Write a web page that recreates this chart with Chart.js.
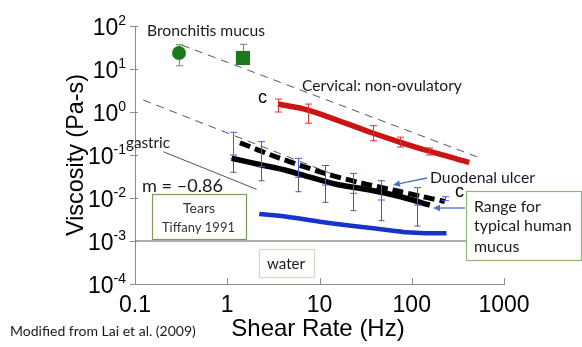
<!DOCTYPE html>
<html><head><meta charset="utf-8">
<script src="https://cdn.jsdelivr.net/npm/chart.js@4.4.1/dist/chart.umd.min.js"></script>
<style>html,body{margin:0;padding:0;background:#fff;overflow:hidden}canvas{display:block}</style>
</head><body>
<canvas id="c" width="582" height="347" style="width:582px;height:347px"></canvas>
<script>
// ---------- data ----------
const xTickVals = [0.1, 1, 10, 100, 1000];
const xTickLabels = ['0.1', '1', '10', '100', '1000'];
const yTickExps = [2, 1, 0, -1, -2, -3, -4];

const bronchCircleX = [0.30];
const bronchCircleY = [23.5];
const bronchCircleLo = [11.9];
const bronchCircleHi = [36.7];
const bronchSquareX = [1.48];
const bronchSquareY = [18];
const bronchSquareLo = [18];
const bronchSquareHi = [37.5];

const cervicalX = [3.54, 7.5, 37.6, 74, 152, 420];
const cervicalY = [1.53, 1.11, 0.325, 0.2, 0.124, 0.0675];
const cervicalErrX = [3.54, 7.5, 37.6, 74, 152];
const cervicalErrLo = [1.0, 0.55, 0.215, 0.153, 0.1];
const cervicalErrHi = [2.0, 1.53, 0.48, 0.26, 0.146];

const duodenalX = [1.373, 3.57, 11.4, 27.4, 62.8, 133, 228];
const duodenalY = [0.193, 0.0865, 0.0375, 0.0227, 0.01535, 0.0107, 0.0083];
const duodenalErrX = [1.15, 2.32, 5.79, 11.6, 23.2, 45.9, 114.5, 228];
const duodenalErrLo = [0.1, 0.0534, 0.0303, 0.020, 0.01285, 0.00898, 0.00687, 0.00865];
const duodenalErrHi = [0.337, 0.204, 0.0838, 0.057, 0.0375, 0.0252, 0.0174, 0.0107];

const typicalX = [1.116, 2.36, 4.22, 7.55, 14.7, 35.2, 74.3, 157];
const typicalY = [0.0838, 0.0585, 0.0448, 0.0313, 0.0212, 0.01535, 0.01084, 0.00687];
const typicalErrX = [1.15, 2.32, 5.79, 11.6, 23.2, 45.9, 114.5];
const typicalErrLo = [0.0396, 0.0252, 0.0140, 0.00794, 0.00507, 0.00297, 0.00223];
const typicalErrHi = [0.0838, 0.0585, 0.0352, 0.0236, 0.0175, 0.0149, 0.00765];

const tearsX = [2.22, 4.40, 10.1, 23.2, 62.8, 87.9, 145, 238];
const tearsY = [0.00425, 0.00367, 0.00281, 0.00223, 0.00174, 0.00159, 0.00151, 0.00151];

const waterX = [0.1, 385];
const waterY = [0.001, 0.001];
const gastricX = [0.203, 2.08];
const gastricY = [0.119, 0.0159];
const guide1X = [0.321, 589];
const guide1Y = [36.1, 0.0807];
const guide2X = [0.123, 16.6];
const guide2Y = [1.90, 0.0307];

// ---------- helpers ----------
const pts = (xs, ys) => xs.map((x, i) => ({ x: x, y: ys[i] }));
const GREEN = '#1c7a1c', RED = '#cc1414', BLUE = '#1634c8', ARROW = '#4472c4';
const SANS = '"Liberation Sans", Arial, sans-serif';
const CAL = 'Lato, "Open Sans", sans-serif';

function fitFont(ctx, text, family, width, weight) {
  ctx.font = (weight || '') + ' 100px ' + family;
  const w = ctx.measureText(text).width;
  ctx.font = (weight || '') + ' ' + (100 * width / w).toFixed(2) + 'px ' + family;
}
function fitText(ctx, text, x, base, width, family, weight) {
  fitFont(ctx, text, family || CAL, width, weight);
  ctx.textAlign = 'left';
  ctx.textBaseline = 'alphabetic';
  ctx.fillText(text, x, base);
}
function errBars(chart, xs, lo, hi, color, cap, lw) {
  const ctx = chart.ctx, sx = chart.scales.x, sy = chart.scales.y;
  ctx.save();
  ctx.strokeStyle = color; ctx.lineWidth = lw;
  xs.forEach((xv, i) => {
    const px = Math.round(sx.getPixelForValue(xv)) + 0.5;
    const p1 = sy.getPixelForValue(lo[i]), p2 = sy.getPixelForValue(hi[i]);
    ctx.beginPath();
    ctx.moveTo(px, p1); ctx.lineTo(px, p2);
    ctx.moveTo(px - cap, p1); ctx.lineTo(px + cap, p1);
    ctx.moveTo(px - cap, p2); ctx.lineTo(px + cap, p2);
    ctx.stroke();
  });
  ctx.restore();
}
function arrow(ctx, x1, y1, x2, y2) {
  ctx.save();
  ctx.strokeStyle = ARROW; ctx.fillStyle = ARROW; ctx.lineWidth = 1.3;
  const ang = Math.atan2(y2 - y1, x2 - x1);
  const hx = x2 - 7 * Math.cos(ang), hy = y2 - 7 * Math.sin(ang);
  ctx.beginPath(); ctx.moveTo(x1, y1); ctx.lineTo(hx, hy); ctx.stroke();
  ctx.beginPath();
  ctx.moveTo(x2, y2);
  ctx.lineTo(hx + 3.2 * Math.sin(ang), hy - 3.2 * Math.cos(ang));
  ctx.lineTo(hx - 3.2 * Math.sin(ang), hy + 3.2 * Math.cos(ang));
  ctx.closePath(); ctx.fill();
  ctx.restore();
}
function box(ctx, x1, y1, x2, y2, color) {
  ctx.save();
  ctx.fillStyle = '#fff'; ctx.fillRect(x1, y1, x2 - x1, y2 - y1);
  ctx.strokeStyle = color; ctx.lineWidth = 1.2;
  ctx.strokeRect(x1 + 0.5, y1 + 0.5, x2 - x1, y2 - y1);
  ctx.restore();
}

const deco = {
  id: 'deco',
  beforeDraw(chart) {
    const ctx = chart.ctx;
    ctx.save(); ctx.fillStyle = '#fff'; ctx.fillRect(0, 0, chart.width, chart.height); ctx.restore();
  },
  beforeDatasetsDraw(chart) {
    errBars(chart, typicalErrX, typicalErrLo, typicalErrHi, '#5a5a5a', 3, 1);
    errBars(chart, bronchCircleX, bronchCircleLo, bronchCircleHi, '#5b955b', 3.5, 1);
    errBars(chart, bronchSquareX, bronchSquareLo, bronchSquareHi, '#5b955b', 3.5, 1);
  },
  afterDatasetsDraw(chart) {
    const ctx = chart.ctx, a = chart.chartArea, sx = chart.scales.x, sy = chart.scales.y;
    errBars(chart, duodenalErrX, duodenalErrLo, duodenalErrHi, '#4a5ad8', 3.5, 1);
    errBars(chart, cervicalErrX, cervicalErrLo, cervicalErrHi, '#dd3030', 3.5, 1);

    ctx.save();
    // tick marks
    ctx.strokeStyle = '#8c8c8c'; ctx.lineWidth = 1;
    yTickExps.forEach(e => {
      const py = Math.round(sy.getPixelForValue(Math.pow(10, e))) + 0.5;
      ctx.beginPath(); ctx.moveTo(a.left - 5, py); ctx.lineTo(a.left + 3, py); ctx.stroke();
    });
    xTickVals.forEach(v => {
      const px = Math.round(sx.getPixelForValue(v)) + 0.5;
      ctx.beginPath(); ctx.moveTo(px, a.bottom); ctx.lineTo(px, a.bottom - 6); ctx.stroke();
    });
    // y tick labels 10^n
    ctx.fillStyle = '#000'; ctx.textBaseline = 'alphabetic'; ctx.textAlign = 'left';
    yTickExps.forEach(e => {
      const py = sy.getPixelForValue(Math.pow(10, e));
      const sup = e < 0 ? '-' + (-e) : String(e);
      ctx.font = '23px ' + SANS; const w1 = ctx.measureText('10').width;
      ctx.font = '14px ' + SANS; const w2 = ctx.measureText(sup).width;
      const x0 = a.left - 9 - w1 - w2;
      ctx.font = '23px ' + SANS; ctx.fillText('10', x0, py + 9);
      ctx.font = '14px ' + SANS; ctx.fillText(sup, x0 + w1, py - 1);
    });
    // x tick labels
    ctx.font = '23px ' + SANS; ctx.textAlign = 'center';
    xTickVals.forEach((v, i) => ctx.fillText(xTickLabels[i], sx.getPixelForValue(v), a.bottom + 28));
    // axis titles
    ctx.font = '24px ' + SANS;
    ctx.fillText('Shear Rate (Hz)', 318, 336);
    ctx.save();
    ctx.translate(83, (a.top + a.bottom) / 2);
    ctx.rotate(-Math.PI / 2);
    ctx.font = '23.4px ' + SANS;
    ctx.fillText('Viscosity (Pa-s)', 0, 0);
    ctx.restore();

    // annotations
    ctx.fillStyle = '#1a1a1a';
    fitText(ctx, 'Bronchitis mucus', 147, 36, 118);
    fitText(ctx, 'Cervical: non-ovulatory', 302, 91, 160);
    ctx.fillStyle = '#000';
    ctx.font = '18px ' + SANS; ctx.textAlign = 'left';
    ctx.fillText('c', 258, 103);
    ctx.fillText('c', 455, 197);
    ctx.fillStyle = '#1a1a1a';
    fitText(ctx, 'gastric', 126, 148, 44);
    fitText(ctx, 'm = \u20130.86', 142, 192, 81);
    fitText(ctx, 'Duodenal ulcer', 430, 182.5, 105);
    fitText(ctx, 'Modified from Lai et al. (2009)', 10, 336, 186);

    box(ctx, 152, 194, 246, 239, '#7b9b5b');
    ctx.fillStyle = '#333';
    fitText(ctx, 'Tears', 183, 212.5, 32);
    fitText(ctx, 'Tiffany 1991', 162, 231.5, 73);

    box(ctx, 259, 249, 314, 277, '#cddbc2');
    ctx.fillStyle = '#1a1a1a';
    fitText(ctx, 'water', 267, 269, 38);

    arrow(ctx, 427, 178, 393, 185);
    arrow(ctx, 465, 208, 433, 208);

    box(ctx, 466, 191, 581, 260, '#93b478');
    ctx.fillStyle = '#1a1a1a';
    fitText(ctx, 'Range for', 474, 211.5, 66.7);
    fitText(ctx, 'typical human', 474, 231, 97.7);
    fitText(ctx, 'mucus', 474, 252, 45.3);
    ctx.restore();
  }
};

const lineDs = (data, color, width, extra) => Object.assign({
  data: data, borderColor: color, backgroundColor: color, borderWidth: width,
  pointRadius: 0, fill: false, tension: 0.3
}, extra || {});

new Chart(document.getElementById('c'), {
  type: 'line',
  data: {
    datasets: [
      { data: pts(bronchCircleX, bronchCircleY), showLine: false, pointStyle: 'circle', pointRadius: 7,
        backgroundColor: GREEN, borderColor: GREEN, borderWidth: 0 },
      { data: pts(bronchSquareX, bronchSquareY), showLine: false, pointStyle: 'rect', pointRadius: 10,
        backgroundColor: GREEN, borderColor: GREEN, borderWidth: 0 },
      lineDs(pts(cervicalX, cervicalY), RED, 5.5),
      lineDs(pts(duodenalX, duodenalY), '#000', 5, { borderDash: [11, 5] }),
      lineDs(pts(typicalX, typicalY), '#000', 5.5),
      lineDs(pts(tearsX, tearsY), BLUE, 4.5),
      lineDs(pts(waterX, waterY), '#5a5a5a', 1, { tension: 0 }),
      lineDs(pts(gastricX, gastricY), '#555', 1, { tension: 0 }),
      lineDs(pts(guide1X, guide1Y), '#555', 1, { tension: 0, borderDash: [8, 6] }),
      lineDs(pts(guide2X, guide2Y), '#555', 1, { tension: 0, borderDash: [8, 6] })
    ]
  },
  options: {
    responsive: false,
    animation: false,
    devicePixelRatio: 1,
    layout: { padding: { left: 135, right: 78, top: 26, bottom: 63 } },
    plugins: { legend: { display: false }, tooltip: { enabled: false } },
    scales: {
      x: { type: 'logarithmic', min: 0.1, max: 1000,
           ticks: { display: false }, grid: { display: false, drawTicks: false },
           border: { display: true, color: '#8c8c8c', width: 1 } },
      y: { type: 'logarithmic', min: 1e-4, max: 100,
           ticks: { display: false }, grid: { display: false, drawTicks: false },
           border: { display: true, color: '#8c8c8c', width: 1 } }
    }
  },
  plugins: [deco]
});
</script>
</body></html>
